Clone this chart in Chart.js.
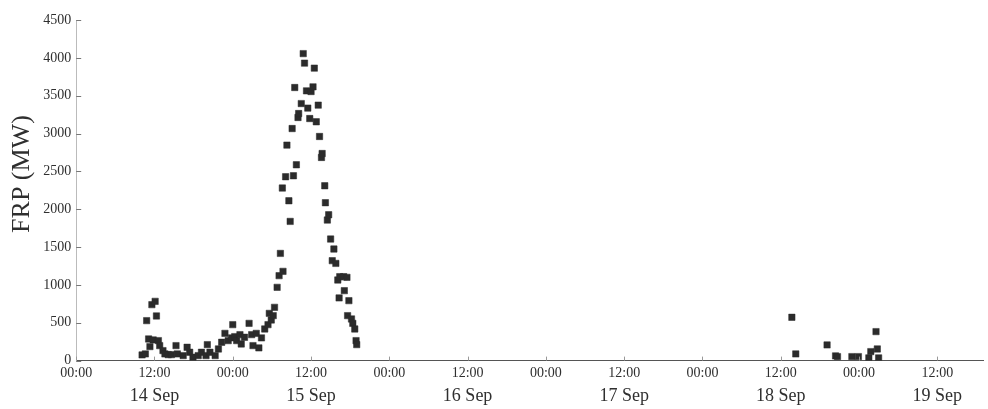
<!DOCTYPE html>
<html>
<head>
<meta charset="utf-8">
<title>FRP (MW)</title>
<script src="https://cdn.jsdelivr.net/npm/chart.js@4"></script>
<style>
  html, body { margin: 0; padding: 0; background: #fff; }
  #wrap { width: 988px; height: 409px; }
</style>
</head>
<body>
<div id="wrap"><canvas id="grafica" width="988" height="409"></canvas></div>
<script>
'use strict';

/* ── DATOS (horas desde 14 Sep 00:00, FRP en MW) ── */
const HORAS = [
  10.1, 10.6, 10.8, 11.1, 11.3, 11.6, 11.8, 12.1, 12.3, 12.6, 12.8, 13.3, 13.6, 14.1, 14.6,
  15.3, 15.5, 16.4, 17.0, 17.4, 17.9, 18.7, 19.2, 19.9, 20.1, 20.5, 21.3, 21.8, 22.3, 22.8,
  23.3, 23.8, 24.0, 24.3, 24.6, 25.1, 25.3, 25.8, 26.5, 26.9, 27.1, 27.6, 28.0, 28.4, 28.9,
  29.4, 29.6, 29.9, 30.2, 30.4, 30.8, 31.1, 31.3, 31.6, 31.7, 32.1, 32.3, 32.6, 32.8, 33.1,
  33.3, 33.5, 33.75, 34.0, 34.1, 34.5, 34.8, 35.0, 35.3, 35.5, 35.8, 36.0, 36.3, 36.5, 36.8,
  37.1, 37.3, 37.6, 37.7, 38.1, 38.2, 38.5, 38.7, 39.0, 39.25, 39.5, 39.8, 40.1, 40.3, 40.4,
  41.0, 41.1, 41.5, 41.6, 41.8, 42.2, 42.4, 42.7, 42.9, 43.0,
  109.7, 110.3, 115.1, 116.4, 116.7, 118.9, 119.9, 121.5, 121.8, 122.6, 122.8, 123.0
];
const FRP = [
  75, 88, 528, 286, 185, 739, 273, 783, 590, 264, 198, 132, 88, 79, 79,
  198, 88, 66, 176, 110, 44, 66, 110, 66, 211, 110, 66, 154, 242, 360,
  264, 300, 475, 317, 264, 343, 220, 308, 492, 343, 198, 360, 168, 300, 418,
  475, 624, 537, 594, 704, 968, 1122, 1416, 2280, 1179, 2429, 2847, 2112, 1839, 3066,
  2442, 3608, 2587, 3212, 3264, 3396, 4056, 3930, 3564, 3336, 3198, 3555, 3617, 3864, 3155,
  3375, 2961, 2684, 2736, 2310, 2086, 1857, 1927, 1606, 1320, 1474, 1284, 1065, 828, 1109,
  1109, 924, 1100, 594, 792, 550, 492, 418, 264, 211,
  572, 88, 207, 62, 53, 53, 53, 36, 119, 383, 154, 36
];

/* ── EJES ── */
const TICKS_HORA  = [0, 12, 24, 36, 48, 60, 72, 84, 96, 108, 120, 132];
const ETIQ_HORA   = ['00:00', '12:00'];
const TICKS_FECHA = [12, 36, 60, 84, 108, 132];
const ETIQ_FECHA  = ['14 Sep', '15 Sep', '16 Sep', '17 Sep', '18 Sep', '19 Sep'];
const Y_MAX = 4500;
const X_MAX = 139;

const FUENTE = "'Liberation Serif', 'DejaVu Serif', serif";
const TEXTO  = '#2f2f2f';

/* Marcas de graduación hacia dentro del área de la gráfica */
const marcasInternas = {
  id: 'marcasInternas',
  afterDatasetsDraw(chart) {
    const { ctx, chartArea, scales } = chart;
    ctx.save();
    ctx.lineWidth = 1;
    ctx.strokeStyle = '#777';
    scales.y.ticks.forEach(t => {
      const py = Math.round(scales.y.getPixelForValue(t.value)) + 0.5;
      ctx.beginPath();
      ctx.moveTo(chartArea.left, py);
      ctx.lineTo(chartArea.left + 5, py);
      ctx.stroke();
    });
    ctx.strokeStyle = '#999';
    scales.x.ticks.forEach(t => {
      const px = Math.round(scales.x.getPixelForValue(t.value)) + 0.5;
      ctx.beginPath();
      ctx.moveTo(px, chartArea.bottom);
      ctx.lineTo(px, chartArea.bottom - 4);
      ctx.stroke();
    });
    ctx.restore();
  }
};

const puntos = HORAS.map((h, i) => ({ x: h, y: FRP[i] }));

new Chart(document.getElementById('grafica').getContext('2d'), {
  type: 'scatter',
  data: {
    datasets: [{
      data: puntos,
      pointStyle: 'rect',
      pointRadius: 4.5,
      pointBackgroundColor: '#2b2b2b',
      pointBorderColor: '#2b2b2b',
      pointBorderWidth: 0.5
    }]
  },
  options: {
    responsive: false,
    animation: false,
    layout: { padding: { top: 20, right: 3, bottom: 2, left: 1 } },
    plugins: { legend: { display: false }, tooltip: { enabled: false } },
    scales: {
      x: {
        type: 'linear',
        position: 'bottom',
        weight: 0,
        min: 0,
        max: X_MAX,
        afterBuildTicks: s => { s.ticks = TICKS_HORA.map(v => ({ value: v })); },
        grid: { display: false, drawTicks: false },
        border: { display: true, color: '#555', width: 1 },
        ticks: {
          autoSkip: false,
          maxRotation: 0,
          padding: 4,
          color: TEXTO,
          font: { family: FUENTE, size: 14 },
          callback: v => ETIQ_HORA[(v / 12) % 2]
        }
      },
      xFecha: {
        type: 'linear',
        position: 'bottom',
        weight: 1,
        min: 0,
        max: X_MAX,
        afterBuildTicks: s => { s.ticks = TICKS_FECHA.map(v => ({ value: v })); },
        grid: { display: false, drawTicks: false },
        border: { display: false },
        ticks: {
          autoSkip: false,
          maxRotation: 0,
          padding: 0,
          color: TEXTO,
          font: { family: FUENTE, size: 18 },
          callback: v => ETIQ_FECHA[TICKS_FECHA.indexOf(v)]
        }
      },
      y: {
        min: 0,
        max: Y_MAX,
        grid: { display: false, drawTicks: false },
        border: { display: true, color: '#bbb', width: 1 },
        ticks: {
          stepSize: 500,
          padding: 5,
          color: TEXTO,
          font: { family: FUENTE, size: 14 },
          callback: v => String(v)
        },
        title: {
          display: true,
          text: '     FRP (MW)',
          color: TEXTO,
          font: { family: FUENTE, size: 26 },
          padding: { top: 6, bottom: 0 }
        }
      }
    }
  },
  plugins: [marcasInternas]
});
</script>
</body>
</html>
